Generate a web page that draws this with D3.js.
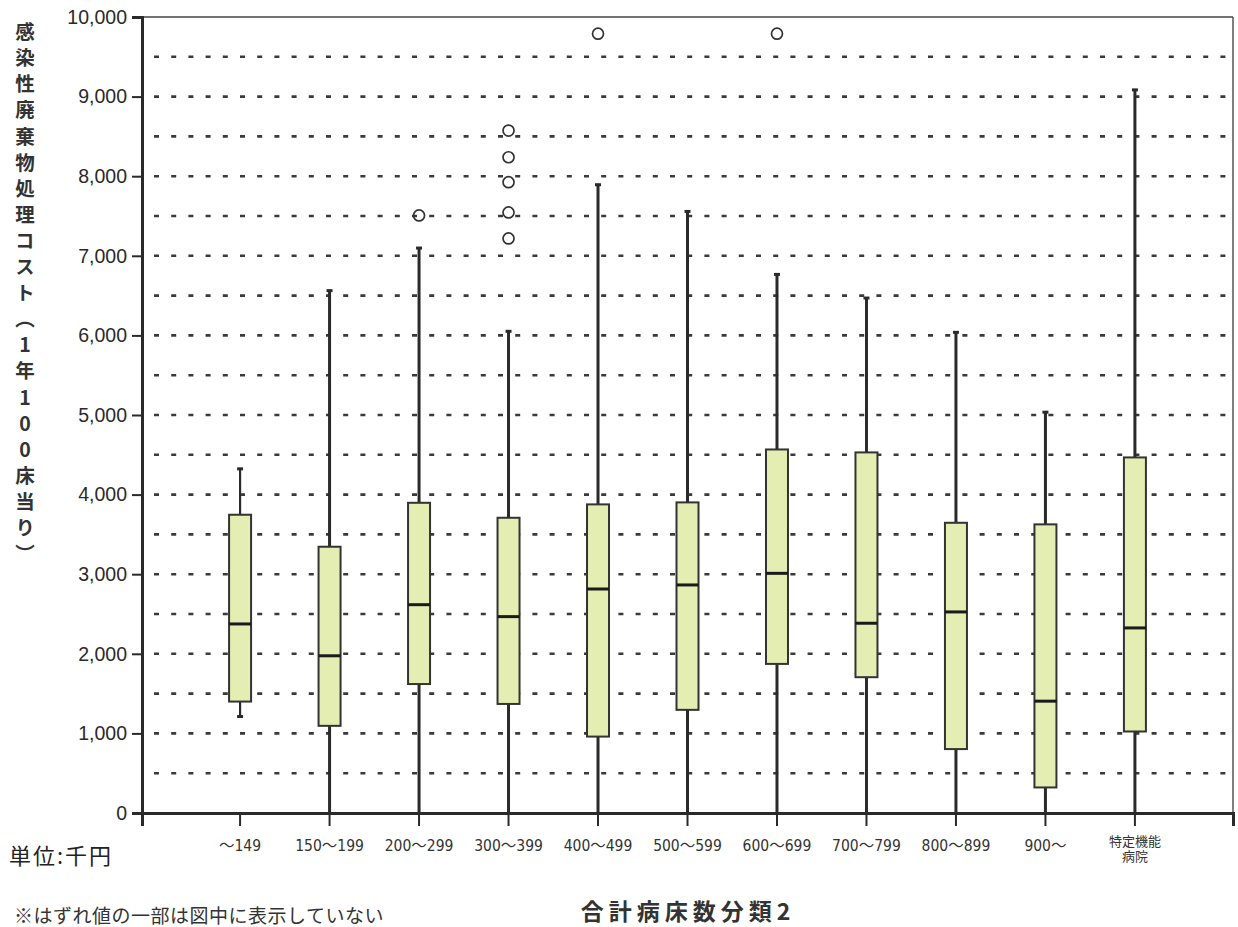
<!DOCTYPE html>
<html>
<head>
<meta charset="utf-8">
<script src="https://cdn.jsdelivr.net/npm/d3@7"></script>
<style>
  html, body { margin: 0; padding: 0; background: #fff; }
  svg { display: block; }
</style>
</head>
<body>
<svg id="chart" width="1238" height="927"></svg>
<script>
// ---- data ----
const categories = ["～149", "150～199", "200～299", "300～399", "400～499", "500～599",
                    "600～699", "700～799", "800～899", "900～", "特定機能病院"];
const whiskerLow  = [1200,    0,    0,    0,    0,    0,    0,    0,    0,    0,    0];
const q1          = [1400, 1095, 1620, 1370,  960, 1296, 1873, 1706,  803,  321, 1024];
const median      = [2375, 1975, 2617, 2467, 2814, 2865, 3011, 2384, 2526, 1405, 2325];
const q3          = [3747, 3345, 3897, 3709, 3877, 3902, 4567, 4530, 3646, 3626, 4467];
const whiskerHigh = [4336, 6575, 7110, 6064, 7905, 7570, 6779, 6482, 6051, 5048, 9097];
const outlierCategory = ["200～299", "300～399", "300～399", "300～399", "300～399", "300～399", "400～499", "600～699"];
const outlierValue    = [7507, 8573, 8238, 7925, 7545, 7218, 9790, 9790];
const yTickValues = [0, 1000, 2000, 3000, 4000, 5000, 6000, 7000, 8000, 9000, 10000];
const gridValues  = [500, 1000, 1500, 2000, 2500, 3000, 3500, 4000, 4500, 5000,
                     5500, 6000, 6500, 7000, 7500, 8000, 8500, 9000, 9500];
const yTitle = "感染性廃棄物処理コスト（1年100床当り）";
const xTitle = "合計病床数分類2";
const unitLabel = "単位:千円";
const footnote = "※はずれ値の一部は図中に表示していない";

// ---- layout ----
const svg = d3.select("#chart");
const plotL = 142, plotR = 1233, plotT = 17, plotB = 813;

const x = d3.scaleBand().domain(categories).range([plotL, plotR])
  .paddingInner(0).paddingOuter(0.596);
const y = d3.scaleLinear().domain([0, 10000]).range([plotB, plotT]);
const cx = c => x(c) + x.bandwidth() / 2;
const boxW = 22;

const ink = "#2a2a2a";

// grid lines (dashed)
svg.append("g").selectAll("line").data(gridValues).join("line")
  .attr("x1", plotL).attr("x2", plotR)
  .attr("y1", d => y(d)).attr("y2", d => y(d))
  .attr("stroke", "#3a3a3a").attr("stroke-width", 2.6)
  .attr("stroke-dasharray", "5,12.2")
  .attr("stroke-dashoffset", -12);

// frame top and right
svg.append("line").attr("x1", plotL).attr("x2", plotR).attr("y1", y(10000)).attr("y2", y(10000))
  .attr("stroke", "#444").attr("stroke-width", 1.5);
svg.append("line").attr("x1", plotR).attr("x2", plotR).attr("y1", y(10000)).attr("y2", plotB)
  .attr("stroke", "#555").attr("stroke-width", 1.5);

// y axis
const yAxis = d3.axisLeft(y).tickValues(yTickValues).tickFormat(d3.format(",")).tickSize(10).tickPadding(5);
const gy = svg.append("g").attr("transform", `translate(${plotL},0)`).call(yAxis);
gy.select(".domain").attr("stroke", ink).attr("stroke-width", 3);
gy.selectAll(".tick line").attr("stroke", ink).attr("stroke-width", 2);
gy.selectAll(".tick text").attr("fill", "#2a2a2a")
  .style("font-family", "'Liberation Sans', Arial, sans-serif").style("font-size", "19.5px");

// x axis
const xAxis = d3.axisBottom(x).tickSize(13).tickFormat("");
const gx = svg.append("g").attr("transform", `translate(0,${plotB})`).call(xAxis);
gx.select(".domain").attr("stroke", ink).attr("stroke-width", 3);
gx.selectAll(".tick line").attr("stroke", ink).attr("stroke-width", 2);

// x tick labels
const xl = svg.append("g").selectAll("text").data(categories).join("text")
  .attr("x", d => cx(d)).attr("y", 851)
  .attr("text-anchor", "middle").attr("fill", "#333")
  .style("font-family", "'Liberation Sans Narrow', 'DejaVu Sans Condensed', 'Arial Narrow', 'Noto Sans CJK JP', sans-serif")
  .style("font-size", "15.5px");
xl.each(function(d) {
  const t = d3.select(this);
  if (d === "特定機能病院") {
    t.attr("y", 846).style("font-size", "13px");
    t.append("tspan").attr("x", cx(d)).text("特定機能");
    t.append("tspan").attr("x", cx(d)).attr("dy", 15).text("病院");
  } else {
    t.text(d);
  }
});

// whiskers and boxes
const boxes = svg.append("g");
categories.forEach((c, i) => {
  const g = boxes.append("g");
  const thick = whiskerLow[i] === 0 ? 3 : 2.2;
  g.append("line").attr("x1", cx(c)).attr("x2", cx(c))
    .attr("y1", y(q3[i])).attr("y2", y(whiskerHigh[i]))
    .attr("stroke", ink).attr("stroke-width", thick);
  g.append("line").attr("x1", cx(c)).attr("x2", cx(c))
    .attr("y1", y(q1[i])).attr("y2", y(whiskerLow[i]))
    .attr("stroke", ink).attr("stroke-width", thick);
  g.append("line").attr("x1", cx(c) - 3).attr("x2", cx(c) + 3)
    .attr("y1", y(whiskerHigh[i]) + 1).attr("y2", y(whiskerHigh[i]) + 1)
    .attr("stroke", ink).attr("stroke-width", 3);
  if (whiskerLow[i] > 0) {
    g.append("line").attr("x1", cx(c) - 3).attr("x2", cx(c) + 3)
      .attr("y1", y(whiskerLow[i]) - 1).attr("y2", y(whiskerLow[i]) - 1)
      .attr("stroke", ink).attr("stroke-width", 3);
  }
  g.append("rect").attr("x", cx(c) - boxW / 2).attr("width", boxW)
    .attr("y", y(q3[i])).attr("height", y(q1[i]) - y(q3[i]))
    .attr("fill", "#e4eeb3").attr("stroke", "#333").attr("stroke-width", 2);
  g.append("line").attr("x1", cx(c) - boxW / 2).attr("x2", cx(c) + boxW / 2)
    .attr("y1", y(median[i])).attr("y2", y(median[i]))
    .attr("stroke", "#1a1a1a").attr("stroke-width", 3);
});

// outliers
svg.append("g").selectAll("circle").data(outlierValue).join("circle")
  .attr("cx", (d, i) => cx(outlierCategory[i])).attr("cy", d => y(d))
  .attr("r", 5.5).attr("fill", "none").attr("stroke", "#333").attr("stroke-width", 1.7);

// y title (vertical)
svg.append("text")
  .attr("x", 25).attr("y", 22)
  .style("writing-mode", "vertical-rl").style("text-orientation", "upright")
  .style("font-family", "'Noto Sans CJK JP', sans-serif").style("font-weight", "bold")
  .style("font-size", "19.5px").style("letter-spacing", "6.6px")
  .attr("fill", "#333")
  .text(yTitle);

// unit label
svg.append("text").attr("x", 9).attr("y", 864)
  .style("font-family", "'Noto Sans CJK JP', sans-serif").style("font-size", "22px")
  .style("letter-spacing", "2px")
  .attr("fill", "#222").text(unitLabel);

// x title
svg.append("text").attr("x", 688).attr("y", 920).attr("text-anchor", "middle")
  .style("font-family", "'Noto Sans CJK JP', sans-serif").style("font-weight", "bold")
  .style("font-size", "23px").style("letter-spacing", "5px")
  .attr("fill", "#333").text(xTitle);

// footnote (sits at the very bottom edge)
svg.append("text").attr("x", 14).attr("y", 923)
  .style("font-family", "'Noto Sans CJK JP', sans-serif").style("font-size", "19px")
  .style("letter-spacing", "0.5px")
  .attr("fill", "#333").text(footnote);
</script>
</body>
</html>
